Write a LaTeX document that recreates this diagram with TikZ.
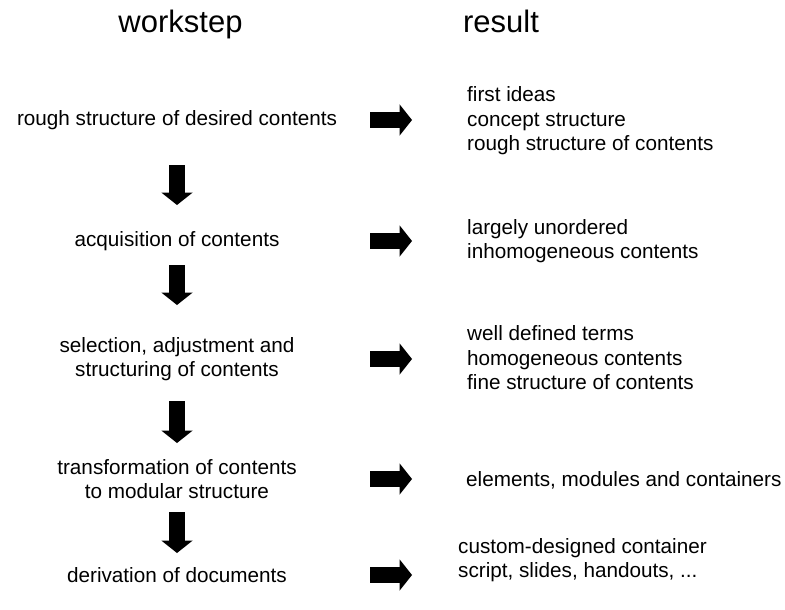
\documentclass[tikz,border=0pt]{standalone}
\usepackage{fontspec}
\setmainfont{Liberation Sans}
\usetikzlibrary{arrows.meta}

\begin{document}
\begin{tikzpicture}[x=1pt,y=-1pt,
        title/.style={font=\fontsize{31}{36}\selectfont, anchor=base, inner sep=0pt},
        stepbox/.style={font=\fontsize{20.7}{24.5}\selectfont, align=center, inner sep=0pt, minimum width=386pt},
        resultbox/.style={font=\fontsize{20.7}{24.5}\selectfont, align=left, anchor=west, inner sep=0pt},
        blockarrow/.style={line width=15.5pt, -{Triangle[length=12.5pt,width=31.5pt,line width=0pt]}}]
            \useasboundingbox (0,0) rectangle (785,610);
            % column heads
            \node[title] (hstep) at (180.5,33) {workstep};
            \node[title] (hres) at (501,33) {result};
            % work steps
            \node[stepbox] (s1) at (177,120) {rough structure of desired contents};
            \node[stepbox] (s2) at (177,241) {acquisition of contents};
            \node[stepbox] (s3) at (177,359) {selection, adjustment and\\structuring of contents};
            \node[stepbox] (s4) at (177,479) {transformation of contents\\to modular structure};
            \node[stepbox] (s5) at (177,575) {derivation of documents};
            % results
            \node[resultbox] (r1) at (467,121) {first ideas\\concept structure\\rough structure of contents};
            \node[resultbox] (r2) at (467,241) {largely unordered\\inhomogeneous contents};
            \node[resultbox] (r3) at (467,358) {well defined terms\\homogeneous contents\\fine structure of contents};
            \node[resultbox] (r4) at (466,480) {elements, modules and containers};
            \node[resultbox] (r5) at (458,560) {custom-designed container\\script, slides, handouts, ...};
            % arrows down the steps
            \draw[blockarrow, shorten <=45pt, shorten >=36pt] (s1.center) -- (s2.center);
            \draw[blockarrow, shorten <=24pt, shorten >=54pt] (s2.center) -- (s3.center);
            \draw[blockarrow, shorten <=42pt, shorten >=36pt] (s3.center) -- (s4.center);
            \draw[blockarrow, shorten <=33pt, shorten >=22pt] (s4.center) -- (s5.center);
            % arrows to the results
            \draw[blockarrow, shorten >=55pt] (s1.east) -- (s1.east -| r1.west);
            \draw[blockarrow, shorten >=55pt] (s2.east) -- (s2.east -| r2.west);
            \draw[blockarrow, shorten >=55pt] (s3.east) -- (s3.east -| r3.west);
            \draw[blockarrow, shorten >=54pt] (s4.east) -- (s4.east -| r4.west);
            \draw[blockarrow, shorten >=46pt] (s5.east) -- (s5.east -| r5.west);
        \end{tikzpicture}
\end{document}
